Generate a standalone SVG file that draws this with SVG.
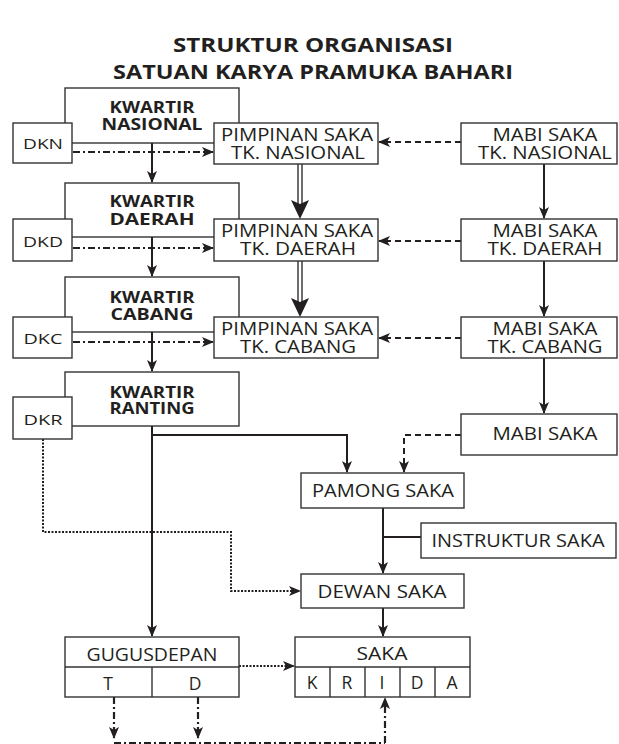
<svg xmlns="http://www.w3.org/2000/svg" width="619" height="744" viewBox="0 0 619 744">
<style>
text{font-family:"Open Sans","Noto Sans","Liberation Sans",sans-serif;fill:#231f20;text-anchor:middle}
.t{font-size:20px;font-weight:bold}
.k{font-size:16px;font-weight:bold}
.n{font-size:17.5px}
.s{font-size:15px}
.box{fill:#fff;stroke:#333;stroke-width:1.4}
.ln{fill:none;stroke:#231f20;stroke-width:2}
.dd{fill:none;stroke:#231f20;stroke-width:2.2;stroke-dasharray:7 3 2 3}
.da{fill:none;stroke:#231f20;stroke-width:2;stroke-dasharray:6 4}
.dt{fill:none;stroke:#231f20;stroke-width:2;stroke-dasharray:2 1.5}
</style>
<defs>
<marker id="ah" viewBox="0 0 12 10" refX="11" refY="5" markerWidth="12" markerHeight="10" markerUnits="userSpaceOnUse" orient="auto">
<path d="M0,0 L12,5 L0,10 L3,5 z" fill="#231f20"/>
</marker>
</defs>

<text class="t" x="313" y="52" textLength="280" lengthAdjust="spacingAndGlyphs">STRUKTUR ORGANISASI</text>
<text class="t" x="313" y="79" textLength="400" lengthAdjust="spacingAndGlyphs">SATUAN KARYA PRAMUKA BAHARI</text>

<g id="kwartir-nasional"><rect class="box" x="65" y="88" width="174" height="55"/><text class="k" x="152" y="113" textLength="85" lengthAdjust="spacingAndGlyphs">KWARTIR</text><text class="k" x="152" y="130" textLength="101" lengthAdjust="spacingAndGlyphs">NASIONAL</text></g>
<g id="kwartir-daerah"><rect class="box" x="65" y="183" width="174" height="54"/><text class="k" x="152" y="207" textLength="85" lengthAdjust="spacingAndGlyphs">KWARTIR</text><text class="k" x="152" y="225" textLength="85" lengthAdjust="spacingAndGlyphs">DAERAH</text></g>
<g id="kwartir-cabang"><rect class="box" x="65" y="277" width="174" height="55"/><text class="k" x="152" y="303" textLength="85" lengthAdjust="spacingAndGlyphs">KWARTIR</text><text class="k" x="152" y="320" textLength="83" lengthAdjust="spacingAndGlyphs">CABANG</text></g>
<g id="kwartir-ranting"><rect class="box" x="65" y="372" width="174" height="54"/><text class="k" x="152" y="398" textLength="85" lengthAdjust="spacingAndGlyphs">KWARTIR</text><text class="k" x="152" y="414" textLength="85" lengthAdjust="spacingAndGlyphs">RANTING</text></g>

<g id="connectors">
<path class="ln" d="M152,143 V182" marker-end="url(#ah)"/>
<path class="ln" d="M152,237 V276" marker-end="url(#ah)"/>
<path class="ln" d="M152,332 V371" marker-end="url(#ah)"/>
<path class="dd" d="M73,152 H213" marker-end="url(#ah)"/>
<path class="dd" d="M73,248 H213" marker-end="url(#ah)"/>
<path class="dd" d="M73,342 H213" marker-end="url(#ah)"/>
<path class="da" d="M461,142 H379" marker-end="url(#ah)"/>
<path class="da" d="M461,241 H379" marker-end="url(#ah)"/>
<path class="da" d="M461,338 H379" marker-end="url(#ah)"/>
<path class="ln" d="M544,164 V218" marker-end="url(#ah)"/>
<path class="ln" d="M544,261 V316" marker-end="url(#ah)"/>
<path class="ln" d="M544,358 V413" marker-end="url(#ah)"/>
<path d="M298,164 V204 M302,164 V204" fill="none" stroke="#231f20" stroke-width="1.3"/>
<path d="M291,200 L300,204 L309,200 L300,219 z" fill="#231f20"/>
<path d="M298,261 V302 M302,261 V302" fill="none" stroke="#231f20" stroke-width="1.3"/>
<path d="M291,298 L300,302 L309,298 L300,317 z" fill="#231f20"/>
<path class="ln" d="M152,426 V636" marker-end="url(#ah)"/>
<path class="ln" d="M152,435 H347 V472" marker-end="url(#ah)"/>
<path class="da" d="M461,435 H404 V472" marker-end="url(#ah)"/>
<path class="ln" d="M383,508 V573" marker-end="url(#ah)"/>
<path class="ln" d="M383,537 H421"/>
<path class="ln" d="M383,608 V636" marker-end="url(#ah)"/>
<path class="dt" d="M43,439 V532 H231 V591 H300" marker-end="url(#ah)"/>
<path class="dt" d="M239,666 H294" marker-end="url(#ah)"/>
<path class="dd" d="M114,697 V738" marker-end="url(#ah)"/>
<path class="dd" d="M198,697 V738" marker-end="url(#ah)"/>
<path class="dd" d="M114,743 H385"/>
<path class="dd" d="M385,743 V698" marker-end="url(#ah)"/>
</g>

<g id="dkn"><rect class="box" x="13" y="123" width="59" height="40"/><text class="s" x="43" y="149" textLength="40" lengthAdjust="spacingAndGlyphs">DKN</text></g>
<g id="dkd"><rect class="box" x="13" y="219" width="59" height="42"/><text class="s" x="43" y="247" textLength="40" lengthAdjust="spacingAndGlyphs">DKD</text></g>
<g id="dkc"><rect class="box" x="13" y="317" width="59" height="41"/><text class="s" x="43" y="344" textLength="39" lengthAdjust="spacingAndGlyphs">DKC</text></g>
<g id="dkr"><rect class="box" x="13" y="397" width="59" height="42"/><text class="s" x="43" y="425" textLength="39" lengthAdjust="spacingAndGlyphs">DKR</text></g>

<g id="pimpinan-nasional"><rect class="box" x="214" y="123" width="164" height="41"/><text class="n" x="297" y="141" textLength="152" lengthAdjust="spacingAndGlyphs">PIMPINAN SAKA</text><text class="n" x="298" y="159" textLength="134" lengthAdjust="spacingAndGlyphs">TK. NASIONAL</text></g>
<g id="pimpinan-daerah"><rect class="box" x="214" y="219" width="164" height="42"/><text class="n" x="297" y="237" textLength="152" lengthAdjust="spacingAndGlyphs">PIMPINAN SAKA</text><text class="n" x="298" y="255" textLength="116" lengthAdjust="spacingAndGlyphs">TK. DAERAH</text></g>
<g id="pimpinan-cabang"><rect class="box" x="214" y="317" width="164" height="41"/><text class="n" x="297" y="335" textLength="152" lengthAdjust="spacingAndGlyphs">PIMPINAN SAKA</text><text class="n" x="298" y="353" textLength="116" lengthAdjust="spacingAndGlyphs">TK. CABANG</text></g>

<g id="mabi-nasional"><rect class="box" x="461" y="123" width="156" height="41"/><text class="n" x="545" y="141" textLength="105" lengthAdjust="spacingAndGlyphs">MABI SAKA</text><text class="n" x="545" y="159" textLength="134" lengthAdjust="spacingAndGlyphs">TK. NASIONAL</text></g>
<g id="mabi-daerah"><rect class="box" x="461" y="219" width="156" height="42"/><text class="n" x="545" y="237" textLength="105" lengthAdjust="spacingAndGlyphs">MABI SAKA</text><text class="n" x="545" y="255" textLength="115" lengthAdjust="spacingAndGlyphs">TK. DAERAH</text></g>
<g id="mabi-cabang"><rect class="box" x="461" y="317" width="156" height="41"/><text class="n" x="545" y="335" textLength="105" lengthAdjust="spacingAndGlyphs">MABI SAKA</text><text class="n" x="545" y="353" textLength="115" lengthAdjust="spacingAndGlyphs">TK. CABANG</text></g>
<g id="mabi-saka"><rect class="box" x="461" y="414" width="156" height="41"/><text class="n" x="545" y="440" textLength="105" lengthAdjust="spacingAndGlyphs">MABI SAKA</text></g>

<g id="pamong-saka"><rect class="box" x="301" y="473" width="163" height="35"/><text class="n" x="383" y="497" textLength="142" lengthAdjust="spacingAndGlyphs">PAMONG SAKA</text></g>
<g id="instruktur-saka"><rect class="box" x="421" y="523" width="195" height="35"/><text class="n" x="518" y="547" textLength="173" lengthAdjust="spacingAndGlyphs">INSTRUKTUR SAKA</text></g>
<g id="dewan-saka"><rect class="box" x="301" y="574" width="163" height="34"/><text class="n" x="382" y="598" textLength="129" lengthAdjust="spacingAndGlyphs">DEWAN SAKA</text></g>

<g id="gugusdepan"><rect class="box" x="65" y="637" width="174" height="60"/><path class="box" d="M65,667 H239 M152,667 V697"/><text class="n" x="152" y="661" textLength="131" lengthAdjust="spacingAndGlyphs">GUGUSDEPAN</text><text class="n" x="108" y="690">T</text><text class="n" x="195" y="690">D</text></g>
<g id="saka"><rect class="box" x="295" y="637" width="175" height="60"/><path class="box" d="M295,667 H470 M330,667 V697 M365,667 V697 M400,667 V697 M435,667 V697"/><text class="n" x="382" y="660" textLength="51" lengthAdjust="spacingAndGlyphs">SAKA</text><text class="n" x="312" y="689">K</text><text class="n" x="347" y="689">R</text><text class="n" x="382" y="689">I</text><text class="n" x="417" y="689">D</text><text class="n" x="452" y="689">A</text></g>
</svg>
